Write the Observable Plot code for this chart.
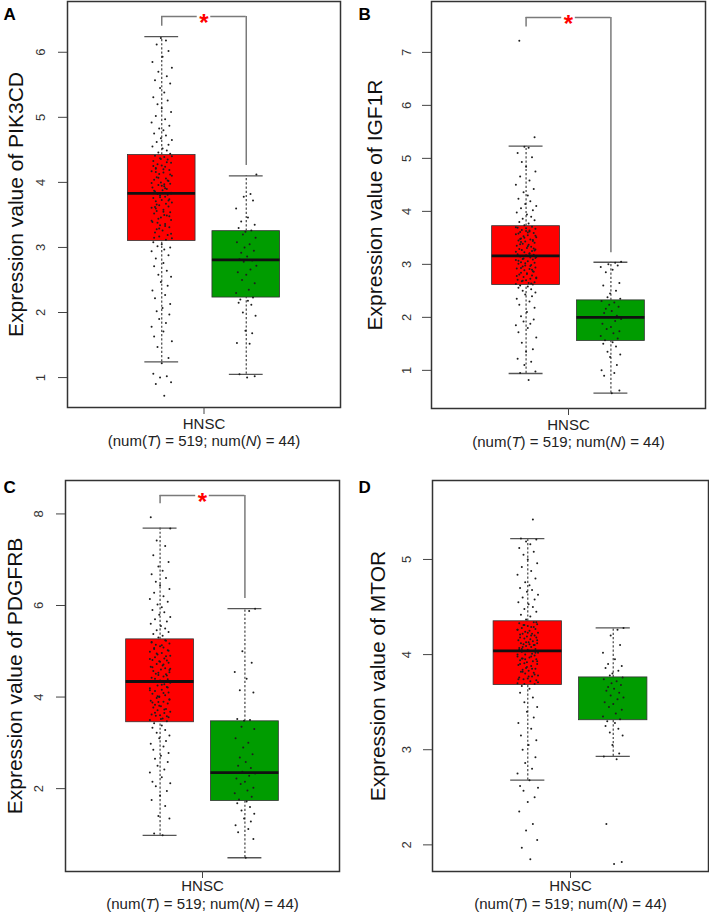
<!DOCTYPE html>
<html><head><meta charset="utf-8">
<script src="https://cdn.jsdelivr.net/npm/d3@7"></script>
<script src="https://cdn.jsdelivr.net/npm/@observablehq/plot@0.6"></script>
<style>
body{margin:0;background:#fff;font-family:"Liberation Sans",Arial,sans-serif;}
#wrap{position:relative;width:709px;height:916px;overflow:hidden;}
.panel{position:absolute;}
</style></head><body><div id="wrap"></div>
<script>
// ---------- data ----------
const genes = ["PIK3CD", "IGF1R", "PDGFRB", "MTOR"];
const letters = ["A", "B", "C", "D"];
const groupLabel = "HNSC";
const subtitleParts = [["(num(", false], ["T", true], [") = 519; num(", false], ["N", true], [") = 44)", false]];
const significant = [true, true, true, false];

const ticksA = [1, 2, 3, 4, 5, 6];
const ticksB = [1, 2, 3, 4, 5, 6, 7];
const ticksC = [2, 4, 6, 8];
const ticksD = [2, 3, 4, 5];

const yDomainA = [0.54, 6.78];
const yDomainB = [0.28, 7.96];
const yDomainC = [0.19, 8.73];
const yDomainD = [1.72, 5.83];

// [lower whisker, Q1, median, Q3, upper whisker]
const tumorBoxA = [1.24, 3.10, 3.83, 4.42, 6.24];
const normalBoxA = [1.05, 2.23, 2.81, 3.25, 4.10];
const tumorBoxB = [0.94, 2.61, 3.16, 3.72, 5.23];
const normalBoxB = [0.57, 1.555, 2.00, 2.32, 3.04];
const tumorBoxC = [0.98, 3.45, 4.34, 5.26, 7.69];
const normalBoxC = [0.49, 1.73, 2.35, 3.47, 5.93];
const tumorBoxD = [2.68, 3.68, 4.04, 4.35, 5.22];
const normalBoxD = [2.93, 3.31, null, 3.76, 4.28];

// significance bracket: [bar level, tumor leg end, normal leg end]
const bracketA = [6.55, 6.40, 4.26];
const bracketB = [7.66, 7.48, 3.22];
const bracketC = [8.40, 8.22, 6.15];
const bracketD = null;

// horizontal jitter of the points (x units)
const jitter = [0.03,-0.07,0.11,-0.02,0.06,-0.10,0.00,0.08,-0.05,0.12,
-0.09,0.02,-0.12,0.05,-0.03,0.09,-0.06,0.01,0.10,-0.08,
0.04,-0.11,0.07,-0.01,0.11,-0.04,0.06,-0.09,0.02,-0.07,
0.08,-0.12,0.03,0.10,-0.05,0.00,-0.10,0.05,0.12,-0.03,
0.07,-0.08,0.01,-0.06,0.09,-0.02,0.04,-0.11,0.11,-0.04,
-0.01,0.06,-0.09,0.10,-0.06,0.02,-0.12,0.08,-0.03,0.05,
0.12,-0.07,0.00,0.09,-0.10,0.04,-0.02,0.07,-0.05,0.11,
-0.08,0.01,0.06,-0.11,0.03,-0.04,0.10,-0.01,0.08,-0.09,
0.05,-0.06,0.12,-0.03,0.02,-0.12,0.09,-0.07,0.04,0.00,
-0.05,0.11,-0.10,0.07,-0.02,0.03,-0.08,0.10,-0.04,0.06,
0.01,-0.11,0.08,-0.06,0.12,-0.01,0.05,-0.09,0.02,-0.03,
0.09,-0.12,0.04,-0.07,0.11,0.00,-0.05,0.07,-0.10,0.03,
-0.02,0.10,-0.08,0.06,-0.04,0.12,-0.11,0.01,0.08,-0.06,
0.05,-0.01,-0.09,0.11,-0.03,0.04,-0.12,0.09,0.02,-0.07,
-0.06,0.08,-0.02,0.11,-0.09,0.04,0.00,-0.12,0.07,-0.04,
0.10,-0.07,0.02,-0.10,0.06,-0.01,0.12,-0.05,0.03,-0.08];

const tumorPtsA = [0.72,0.90,0.93,1.00,1.02,1.06,1.22,1.30,1.47,1.56,1.63,1.71,1.78,1.84,1.90,1.97,2.02,2.07,2.13,2.22,2.27,2.34,2.41,2.47,2.55,2.58,2.64,2.71,2.76,2.83,2.88,2.94,2.97,3.00,3.02,3.05,3.08,
3.12,3.14,3.17,3.19,3.23,3.26,3.28,3.31,3.34,3.36,3.39,3.42,3.44,3.46,3.49,3.52,3.54,3.56,3.58,3.61,3.63,3.65,3.67,3.69,3.71,3.73,3.74,3.76,3.78,3.80,3.81,3.82,
3.84,3.86,3.88,3.90,3.92,3.94,3.96,3.98,4.00,4.02,4.04,4.06,4.08,4.10,4.13,4.15,4.17,4.19,4.21,4.24,4.26,4.28,4.30,4.33,4.35,4.37,4.39,4.41,
4.44,4.46,4.49,4.52,4.55,4.58,4.62,4.65,4.68,4.72,4.75,4.80,4.83,4.87,4.92,4.97,5.02,5.08,5.14,5.20,5.26,5.31,5.38,5.45,5.52,5.57,5.63,5.70,5.76,5.85,5.93,6.02,6.12,6.18,6.22,
3.15,3.21,3.29,3.33,3.41,3.48,3.55,3.60,3.66,3.72,3.77,3.83,3.87,3.91,3.95,3.99,4.03,4.07,4.12,4.16,4.20,4.25,4.31,4.36,4.40,3.38,3.50,3.62,3.97,4.22];
const normalPtsA = [1.00,1.02,1.05,1.52,1.53,1.68,1.72,1.95,2.00,2.12,2.15,2.18,2.20,2.23,2.30,2.35,2.45,2.50,2.58,2.62,2.66,2.72,2.78,2.80,2.82,2.86,2.92,2.95,3.00,3.05,3.08,3.15,3.20,3.24,3.26,3.30,3.35,3.40,3.46,3.60,3.72,3.78,3.82,4.12];

const tumorPtsB = [0.82,0.95,0.98,1.10,1.16,1.22,1.35,1.40,1.52,1.62,1.72,1.80,1.85,1.88,1.92,1.96,2.02,2.10,2.18,2.24,2.30,2.35,2.40,2.43,2.47,2.50,2.53,2.56,2.58,2.60,
2.62,2.63,2.65,2.66,2.68,2.70,2.71,2.73,2.75,2.76,2.79,2.81,2.83,2.84,2.86,2.89,2.91,2.92,2.94,2.96,2.98,2.99,3.01,3.03,3.04,3.06,3.08,3.09,3.11,3.13,3.14,3.15,
3.17,3.18,3.19,3.21,3.23,3.25,3.27,3.28,3.29,3.31,3.33,3.35,3.37,3.39,3.41,3.43,3.44,3.45,3.47,3.49,3.51,3.53,3.55,3.57,3.59,3.61,3.62,3.63,3.65,3.67,3.69,3.71,
3.74,3.77,3.80,3.83,3.86,3.90,3.94,3.98,4.02,4.06,4.10,4.14,4.19,4.24,4.30,4.36,4.42,4.50,4.58,4.66,4.75,4.84,4.93,5.02,5.10,5.20,5.22,5.40,7.22,
2.64,2.69,2.74,2.78,2.82,2.87,2.93,2.97,3.02,3.07,3.12,3.16,3.20,3.24,3.30,3.34,3.38,3.42,3.46,3.50,3.54,3.58,3.64,3.68,3.70,2.90,3.10,3.26,3.48,3.60];
const normalPtsB = [0.57,0.62,0.90,0.95,1.00,1.10,1.25,1.30,1.35,1.45,1.50,1.53,1.57,1.60,1.65,1.70,1.74,1.78,1.82,1.88,1.93,1.97,2.00,2.03,2.08,2.12,2.16,2.20,2.24,2.28,2.31,2.35,2.38,2.45,2.50,2.60,2.65,2.85,2.90,2.95,2.98,3.00,3.03,3.05];

const tumorPtsC = [0.98,1.02,1.35,1.40,1.62,1.75,1.85,1.95,2.05,2.12,2.15,2.25,2.35,2.42,2.50,2.58,2.65,2.72,2.78,2.85,2.92,2.98,3.04,3.10,3.16,3.22,3.28,3.33,3.38,3.43,
3.47,3.50,3.53,3.56,3.59,3.60,3.62,3.65,3.68,3.71,3.74,3.77,3.80,3.83,3.86,3.89,3.90,3.92,3.95,3.98,4.01,4.04,4.07,4.10,4.13,4.16,4.19,4.22,4.25,4.28,4.31,4.33,
4.36,4.39,4.42,4.45,4.48,4.50,4.51,4.54,4.57,4.60,4.63,4.66,4.69,4.72,4.75,4.78,4.80,4.81,4.84,4.87,4.90,4.93,4.96,4.99,5.02,5.05,5.08,5.11,5.14,5.17,5.20,5.23,
5.30,5.34,5.38,5.42,5.46,5.50,5.55,5.60,5.65,5.70,5.75,5.80,5.85,5.90,5.96,6.02,6.08,6.14,6.20,6.28,6.36,6.44,6.52,6.60,6.68,6.76,6.85,6.95,7.10,7.30,7.42,7.68,7.93,
3.52,3.58,3.66,3.73,3.81,3.88,3.94,4.02,4.09,4.15,4.21,4.27,4.34,4.40,4.47,4.53,4.59,4.65,4.71,4.77,4.83,4.89,4.95,5.01,5.07,5.13,5.19,5.24,4.00,4.62];
const normalPtsC = [0.49,0.90,1.05,1.12,1.20,1.28,1.35,1.45,1.52,1.60,1.68,1.72,1.76,1.82,1.90,1.96,2.02,2.10,2.15,2.22,2.28,2.33,2.37,2.45,2.50,2.58,2.68,2.75,2.90,3.00,3.10,3.30,3.35,3.48,3.50,3.52,4.10,4.15,4.40,4.55,4.75,5.00,5.88,5.93];

const tumorPtsD = [1.85,1.97,2.05,2.15,2.22,2.35,2.45,2.50,2.57,2.60,2.62,2.68,2.75,2.80,2.86,2.92,3.00,3.05,3.10,3.15,3.22,3.28,3.34,3.40,3.45,3.50,3.55,3.60,3.64,3.67,
3.69,3.70,3.72,3.73,3.74,3.75,3.76,3.77,3.78,3.80,3.81,3.82,3.83,3.84,3.85,3.86,3.88,3.89,3.90,3.91,3.92,3.93,3.94,3.95,3.96,3.97,3.98,3.99,4.00,4.01,4.02,4.03,
4.05,4.06,4.07,4.08,4.09,4.10,4.11,4.12,4.12,4.13,4.14,4.15,4.16,4.17,4.18,4.19,4.20,4.21,4.22,4.22,4.23,4.24,4.25,4.26,4.27,4.28,4.29,4.30,4.31,4.32,4.33,4.34,
4.37,4.40,4.42,4.45,4.48,4.50,4.53,4.55,4.58,4.60,4.63,4.66,4.68,4.70,4.73,4.76,4.80,4.84,4.88,4.92,4.96,5.00,5.05,5.08,5.12,5.16,5.19,5.21,5.22,5.42,
3.69,3.71,3.74,3.77,3.79,3.82,3.85,3.87,3.90,3.93,3.95,3.98,4.00,4.02,4.04,4.06,4.08,4.10,4.13,4.15,4.18,4.20,4.23,4.26,4.29,4.31,4.34,3.96,4.11,4.05];
const normalPtsD = [1.80,1.82,2.22,2.90,2.93,2.96,3.05,3.15,3.18,3.22,3.25,3.28,3.30,3.32,3.35,3.38,3.42,3.45,3.48,3.50,3.53,3.55,3.57,3.60,3.62,3.64,3.66,3.68,3.70,3.72,3.74,3.76,3.78,3.80,3.83,3.86,3.88,3.90,3.95,4.02,4.10,4.20,4.26,4.28];

// ---------- layout (not data) ----------
const panels = [
  {ticks: ticksA, domain: yDomainA, tBox: tumorBoxA, nBox: normalBoxA, tPts: tumorPtsA, nPts: normalPtsA, bracket: bracketA,
   left: 0, top: 0, width: 350, height: 455, ml: 67, mr: 10, mt: 1, mb: 48, titleX: 16, tickX: 40, letterDy: 6, labDy: [21, 38]},
  {ticks: ticksB, domain: yDomainB, tBox: tumorBoxB, nBox: normalBoxB, tPts: tumorPtsB, nPts: normalPtsB, bracket: bracketB,
   left: 355, top: 0, width: 354, height: 455, ml: 76, mr: 4, mt: 1, mb: 47, titleX: 20, tickX: 51, letterDy: 6, labDy: [21, 38]},
  {ticks: ticksC, domain: yDomainC, tBox: tumorBoxC, nBox: normalBoxC, tPts: tumorPtsC, nPts: normalPtsC, bracket: bracketC,
   left: 0, top: 470, width: 350, height: 446, ml: 65, mr: 11, mt: 10, mb: 45, titleX: 15, tickX: 38, letterDy: 0, labDy: [19, 37]},
  {ticks: ticksD, domain: yDomainD, tBox: tumorBoxD, nBox: normalBoxD, tPts: tumorPtsD, nPts: normalPtsD, bracket: bracketD,
   left: 355, top: 470, width: 354, height: 446, ml: 77, mr: 1, mt: 10, mb: 45, titleX: 23, tickX: 51, letterDy: 0, labDy: [19, 37]}
];

const fills = ["#ff0000", "#009c00"];
const subtitleText = subtitleParts.map(d => d[0]).join("");
const wrap = document.getElementById("wrap");

panels.forEach((p, k) => {
  const boxes = [p.tBox, p.nBox].map((b, i) => ({g: i + 1, lo: b[0], q1: b[1], med: b[2], q3: b[3], hi: b[4], fill: fills[i]}));
  const pts = [
    ...p.tPts.map((v, i) => ({x: 1 + jitter[i % jitter.length], y: v})),
    ...p.nPts.map((v, i) => ({x: 2 + jitter[(i + 17) % jitter.length], y: v}))
  ];
  const marks = [
    Plot.rect(boxes, {x1: d => d.g - 0.4, x2: d => d.g + 0.4, y1: "q1", y2: "q3", fill: "fill", stroke: "#333", strokeWidth: 0.8}),
    Plot.ruleX(boxes, {x: "g", y1: "q3", y2: "hi", stroke: "#444", strokeWidth: 1.2, strokeDasharray: "2.2,2"}),
    Plot.ruleX(boxes, {x: "g", y1: "lo", y2: "q1", stroke: "#444", strokeWidth: 1.2, strokeDasharray: "2.2,2"}),
    Plot.ruleY(boxes, {y: "hi", x1: d => d.g - 0.2, x2: d => d.g + 0.2, stroke: "#555", strokeWidth: 1.3}),
    Plot.ruleY(boxes, {y: "lo", x1: d => d.g - 0.2, x2: d => d.g + 0.2, stroke: "#555", strokeWidth: 1.3}),
    Plot.dot(pts, {x: "x", y: "y", r: 1.0, fill: "#1e1e1e", stroke: null}),
    Plot.ruleY(boxes.filter(d => d.med != null), {y: "med", x1: d => d.g - 0.4, x2: d => d.g + 0.4, stroke: "#111", strokeWidth: 2.8}),
    Plot.frame({stroke: "#333", strokeWidth: 1.5}),
    Plot.axisY(p.ticks, {tickSize: 9, tickFormat: () => "", stroke: "#444", label: null}),
    Plot.text(p.ticks, {y: d => d, text: d => String(d), frameAnchor: "left", dx: p.tickX - p.ml, rotate: -90, textAnchor: "middle", lineAnchor: "middle", fontSize: 13, fill: "#333"}),
    Plot.axisX([1.5], {tickSize: 7, tickFormat: () => "", stroke: "#444", label: null}),
    Plot.text([`Expression value of ${genes[k]}`], {frameAnchor: "left", dx: p.titleX - p.ml, rotate: -90, textAnchor: "middle", lineAnchor: "middle", fontSize: 21, fill: "#111"}),
    Plot.text([letters[k]], {frameAnchor: "top-left", dx: 3 - p.ml, dy: p.letterDy, textAnchor: "start", lineAnchor: "top", fontSize: 17, fontWeight: "bold", fill: "#000"}),
    Plot.text([groupLabel], {frameAnchor: "bottom", dy: p.labDy[0], textAnchor: "middle", fontSize: 15, fill: "#222"}),
    Plot.text([subtitleText], {frameAnchor: "bottom", dy: p.labDy[1], textAnchor: "middle", fontSize: 15, fill: "#222"})
  ];
  if (significant[k] && p.bracket) {
    const [top, lEnd, rEnd] = p.bracket;
    marks.push(
      Plot.ruleX([{x: 1, y1: lEnd, y2: top}, {x: 2, y1: rEnd, y2: top}], {x: "x", y1: "y1", y2: "y2", stroke: "#7a7a7a", strokeWidth: 1.5}),
      Plot.ruleY([{y: top, x1: 1, x2: 1.42}, {y: top, x1: 1.58, x2: 2}], {y: "y", x1: "x1", x2: "x2", stroke: "#7a7a7a", strokeWidth: 1.5}),
      Plot.text(["*"], {x: () => 1.5, y: () => top, fill: "#ff0000", fontSize: 24, fontWeight: "bold", dy: 7})
    );
  }
  const chart = Plot.plot({
    width: p.width, height: p.height,
    marginLeft: p.ml, marginRight: p.mr, marginTop: p.mt, marginBottom: p.mb,
    style: {fontFamily: "'Liberation Sans', Arial, sans-serif", background: "transparent", overflow: "visible"},
    x: {domain: [-0.115, 3.115]},
    y: {domain: p.domain},
    marks
  });
  d3.select(chart).selectAll("text").filter(function () { return this.textContent === subtitleText; }).each(function () {
    const t = d3.select(this);
    t.text(null);
    subtitleParts.forEach(([s, it]) => t.append("tspan").attr("font-style", it ? "italic" : null).text(s));
  });
  const div = document.createElement("div");
  div.className = "panel";
  div.style.left = p.left + "px";
  div.style.top = p.top + "px";
  div.appendChild(chart);
  wrap.appendChild(div);
});
</script></body></html>
